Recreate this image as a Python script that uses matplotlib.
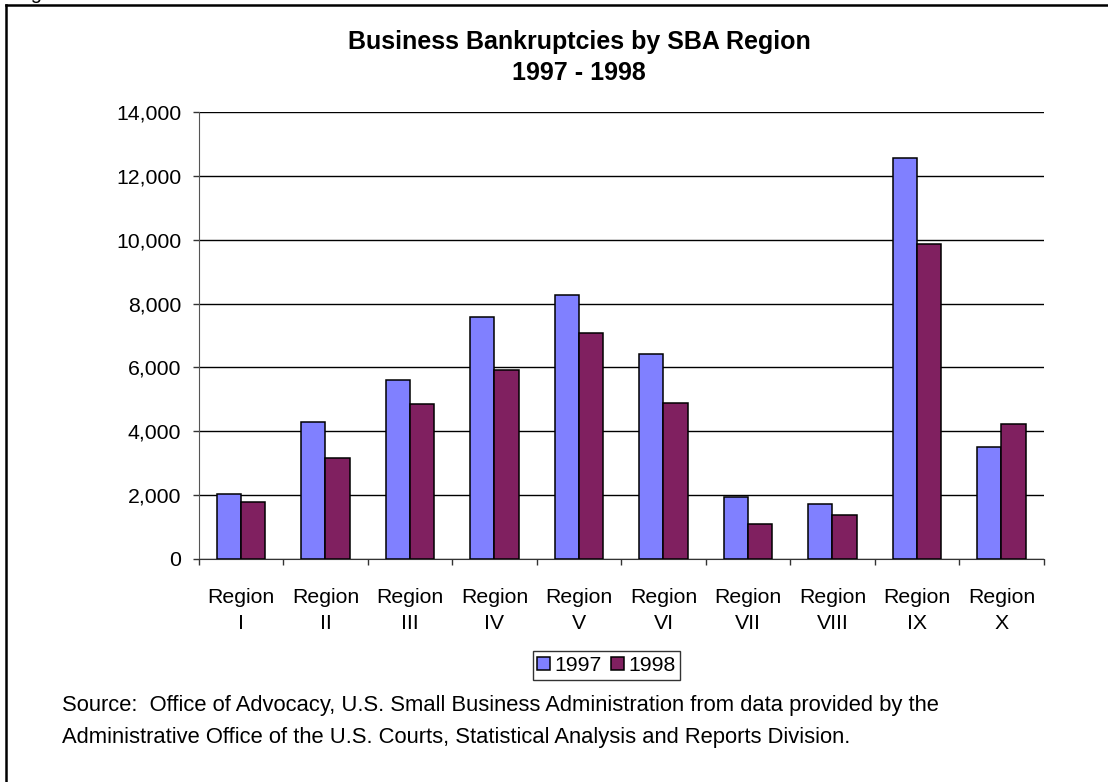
import matplotlib
matplotlib.use("Agg")
import matplotlib.pyplot as plt
from matplotlib.lines import Line2D
import numpy as np

plt.rcParams['font.family'] = ['Liberation Sans', 'DejaVu Sans']

regions = ["Region\nI", "Region\nII", "Region\nIII", "Region\nIV", "Region\nV",
           "Region\nVI", "Region\nVII", "Region\nVIII", "Region\nIX", "Region\nX"]
bankruptcies_1997 = [2030, 4280, 5600, 7570, 8270, 6420, 1920, 1700, 12570, 3500]
bankruptcies_1998 = [1790, 3150, 4840, 5920, 7090, 4870, 1100, 1380, 9860, 4220]
series_labels = ["1997", "1998"]
y_ticks = [0, 2000, 4000, 6000, 8000, 10000, 12000, 14000]

W, H = 1108, 782
fig = plt.figure(figsize=(W / 100, H / 100), dpi=100)
fig.patch.set_facecolor("white")

ax = fig.add_axes([198.7 / W, 1 - 558.7 / H, (1043.7 - 198.7) / W, (558.7 - 112.3) / H])

x = np.arange(len(regions)) + 0.5
bw = 0.286
c97, c98 = "#8080ff", "#802060"
b1 = ax.bar(x - bw / 2, bankruptcies_1997, width=bw, color=c97, edgecolor="black",
            linewidth=1.1, zorder=3, label=series_labels[0])
b2 = ax.bar(x + bw / 2, bankruptcies_1998, width=bw, color=c98, edgecolor="black",
            linewidth=1.1, zorder=3, label=series_labels[1])

ax.set_xlim(0, len(regions))
ax.set_ylim(0, 14000)
ax.set_yticks(y_ticks)
ax.set_yticklabels([f"{v:,}" for v in y_ticks])
ax.yaxis.grid(True, color="black", linewidth=1.0, zorder=0)
ax.set_axisbelow(True)

# boundary ticks between regions, labels at region centres
ax.set_xticks(np.arange(len(regions) + 1))
ax.set_xticklabels([])
ax.set_xticks(x, minor=True)
ax.set_xticklabels(regions, minor=True, fontsize=15.3, linespacing=1.5)
ax.tick_params(axis="x", which="minor", length=0, pad=21)
ax.tick_params(axis="x", which="major", direction="out", length=4.5, width=1, color="#333333")
ax.tick_params(axis="y", direction="out", length=4.5, width=1, pad=8, labelsize=15.3,
               color="#333333")

for s in ["top", "right"]:
    ax.spines[s].set_visible(False)
ax.spines["left"].set_color("#555555")
ax.spines["bottom"].set_color("#333333")

# title
fig.text(579 / W, 1 - 42 / H, "Business Bankruptcies by SBA Region", ha="center", va="center",
         fontsize=18, fontweight="bold")
fig.text(579 / W, 1 - 72.5 / H, "1997 - 1998", ha="center", va="center",
         fontsize=18, fontweight="bold")

# legend
leg = fig.legend(handles=[b1, b2], labels=series_labels, loc="center",
                 bbox_to_anchor=(606.5 / W, 1 - 665.5 / H), ncol=2, frameon=True,
                 fancybox=False, edgecolor="black", fontsize=15.3,
                 handlelength=0.6, handleheight=0.62, handletextpad=0.2,
                 columnspacing=0.45, borderpad=0.22, borderaxespad=0)
leg.get_frame().set_linewidth(1.0)

# source note
fig.text(62 / W, 1 - 706 / H,
         "Source:  Office of Advocacy, U.S. Small Business Administration from data provided by the",
         ha="left", va="center", fontsize=15.8)
fig.text(62 / W, 1 - 737 / H,
         "Administrative Office of the U.S. Courts, Statistical Analysis and Reports Division.",
         ha="left", va="center", fontsize=15.8)

# frame around the chart (top and left edges)
fig.add_artist(Line2D([5.5 / W, 1.0], [1 - 5 / H, 1 - 5 / H], transform=fig.transFigure,
                      color="black", linewidth=1.8))
fig.add_artist(Line2D([5.5 / W, 5.5 / W], [0.0, 1 - 5 / H], transform=fig.transFigure,
                      color="black", linewidth=1.8))

# caption above the frame
fig.text(14 / W, 1 + 1 / H, "Figure", ha="left", va="baseline", fontsize=14.5)

fig.savefig("out.png", dpi=100, facecolor="white")
